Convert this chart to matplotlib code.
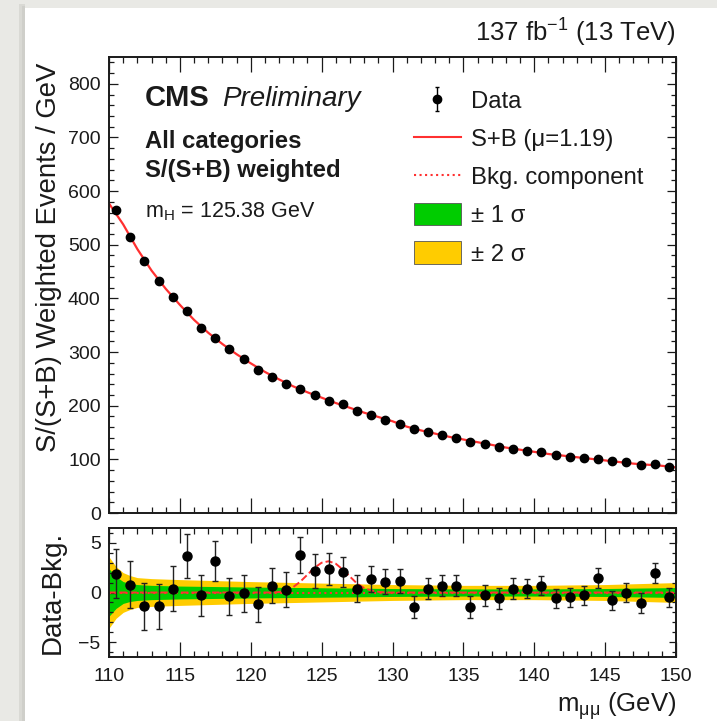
import numpy as np
import matplotlib
matplotlib.use('Agg')
import matplotlib.pyplot as plt
from matplotlib.patches import Rectangle, Patch
from matplotlib.lines import Line2D
from matplotlib.ticker import MultipleLocator

plt.rcParams['font.family'] = ['Liberation Sans', 'DejaVu Sans']
plt.rcParams['mathtext.default'] = 'regular'

# 1 GeV bins from 110 to 150
mass = np.arange(110.5, 150.0, 1.0)

events = [564, 515, 469, 432, 402, 376, 344, 327, 305, 287,
          266, 253, 240, 231, 220, 208, 203, 190, 182, 173,
          166, 156, 151, 145, 140, 132, 128, 123, 119, 115,
          113, 108, 104, 102, 100, 97, 95, 89, 91, 86]

resid = [1.9, 0.8, -1.4, -1.4, 0.4, 3.7, -0.3, 3.2, -0.4, -0.1,
         -1.2, 0.7, 0.3, 3.8, 2.2, 2.4, 2.1, 0.4, 1.4, 1.1,
         1.2, -1.5, 0.4, 0.7, 0.7, -1.5, -0.3, -0.6, 0.4, 0.4,
         0.7, -0.6, -0.5, -0.3, 1.5, -0.8, 0.0, -1.1, 2.0, -0.5]

resid_err = [2.5, 2.4, 2.4, 2.3, 2.3, 2.2, 2.1, 2.0, 1.9, 1.9,
             1.8, 1.8, 1.8, 1.8, 1.7, 1.6, 1.5, 1.4, 1.3, 1.3,
             1.2, 1.1, 1.1, 1.1, 1.1, 1.1, 1.1, 1.1, 1.1, 1.0,
             1.0, 1.0, 1.0, 1.0, 1.0, 1.0, 1.0, 1.0, 1.0, 1.0]

# S+B fit curve (top panel)
fit_mass = list(range(110, 151))
fit_vals = [577, 538, 492, 452, 418, 388, 360, 336, 315, 296,
            279, 263, 249, 236, 225, 215, 205, 196, 187, 179,
            171, 161, 154, 148, 142, 137, 132, 127, 122, 118,
            114, 110, 107, 104, 101, 98, 95, 92, 90, 88, 85]

# signal component (S+B - B) in the lower panel
sig_mass = [110, 121.5, 122, 122.5, 123, 123.5, 124, 124.5, 125, 125.5,
            126, 126.5, 127, 127.5, 128, 128.5, 129, 129.5, 150]
sig_vals = [0, 0, 0.05, 0.2, 0.55, 1.1, 1.8, 2.5, 3.0, 3.15,
            2.9, 2.3, 1.6, 0.9, 0.45, 0.2, 0.07, 0, 0]

# uncertainty bands of the background fit
band_mass = [110, 110.5, 111, 111.5, 112, 113, 115, 120, 125, 130, 135, 140, 145, 150]
band_1sig = [2.4, 1.6, 1.1, 0.9, 0.8, 0.72, 0.65, 0.55, 0.48, 0.4, 0.36, 0.36, 0.4, 0.5]
band_2sig = [3.6, 2.6, 2.0, 1.7, 1.5, 1.4, 1.3, 1.1, 0.95, 0.8, 0.72, 0.72, 0.8, 1.0]

red = '#ff3030'
green = '#00cc00'
yellow = '#ffcc00'
ink = '#1a1a1a'

W, H = 717, 721
fig = plt.figure(figsize=(W / 100, H / 100), dpi=100)
fig.patch.set_facecolor('#e9e9e5')
# slide-like white card with a soft shadow
fig.add_artist(Rectangle((19 / W, 0), 6 / W, 1 - 4 / H, transform=fig.transFigure,
                         facecolor='#d9d9d4', edgecolor='none', zorder=-3))
fig.add_artist(Rectangle((22 / W, 0), 3 / W, 1 - 6 / H, transform=fig.transFigure,
                         facecolor='#cfcfca', edgecolor='none', zorder=-2))
fig.add_artist(Rectangle((25 / W, 0), 1, 1 - 8 / H, transform=fig.transFigure,
                         facecolor='white', edgecolor='none', zorder=-1))

ax = fig.add_axes([109 / W, 1 - 513 / H, 567 / W, 456 / H])
ax2 = fig.add_axes([109 / W, 1 - 657 / H, 567 / W, 129 / H])

# upper panel
ax.plot(fit_mass, fit_vals, color=red, lw=1.6, zorder=2)
data_eb = ax.errorbar(mass, events, yerr=resid_err, fmt='o', color='black', ms=6,
                      elinewidth=1, capsize=1.5, zorder=3)
ax.set_xlim(110, 150)
ax.set_ylim(0, 850)

# lower panel
ax2.fill_between(band_mass, [-v for v in band_2sig], band_2sig, color=yellow, lw=0, zorder=1)
ax2.fill_between(band_mass, [-v for v in band_1sig], band_1sig, color=green, lw=0, zorder=1)
ax2.axhline(0, color=red, ls=':', lw=1.5, zorder=2)
ax2.plot(sig_mass, sig_vals, color=red, ls='--', lw=1.4, zorder=2)
ax2.errorbar(mass, resid, yerr=resid_err, fmt='o', color='black', ecolor='#222222', ms=6.5,
             elinewidth=1, capsize=2, zorder=3)
ax2.set_xlim(110, 150)
ax2.set_ylim(-6.5, 6.5)

for a in (ax, ax2):
    a.xaxis.set_major_locator(MultipleLocator(5))
    a.xaxis.set_minor_locator(MultipleLocator(1))
    a.tick_params(which='both', direction='in', top=True, right=True, width=0.9,
                  color=ink, labelsize=14, labelcolor=ink)
    a.tick_params(axis='x', which='major', length=11, pad=8)
    a.tick_params(axis='x', which='minor', length=4.5)
    for s in a.spines.values():
        s.set_linewidth(1.4)
        s.set_color(ink)

ax.yaxis.set_major_locator(MultipleLocator(100))
ax.yaxis.set_minor_locator(MultipleLocator(20))
ax.tick_params(axis='y', which='major', length=6.5, pad=6)
ax.tick_params(axis='y', which='minor', length=3.5)
ax.tick_params(labelbottom=False)

ax2.yaxis.set_major_locator(MultipleLocator(5))
ax2.yaxis.set_minor_locator(MultipleLocator(1))
ax2.tick_params(axis='y', which='major', length=5, pad=6)
ax2.tick_params(axis='y', which='minor', length=3)

ax.set_ylabel('S/(S+B) Weighted Events / GeV', fontsize=19.8, color=ink, loc='top')
ax.yaxis.set_label_coords(-0.083, 0.987)
ax2.set_ylabel('Data-Bkg.', fontsize=20, color=ink)
ax2.yaxis.set_label_coords(-0.076, 0.5)
ax2.set_xlabel(r'$m_{\mu\mu}$ (GeV)', fontsize=18.5, color=ink, loc='right')
ax2.xaxis.set_label_coords(1.0, -0.255)

ax.text(1.0, 1 + 15 / 456, r'137 fb$^{-1}$ (13 TeV)', transform=ax.transAxes,
        ha='right', va='baseline', fontsize=18.5, color=ink)

def afrac(px, py):
    return (px - 109) / 567, 1 - (py - 57) / 456

ax.text(*afrac(145, 106), 'CMS', transform=ax.transAxes, fontsize=21,
        fontweight='bold', color=ink, va='baseline')
ax.text(*afrac(222, 106), 'Preliminary', transform=ax.transAxes, fontsize=20,
        fontstyle='italic', color=ink, va='baseline')
ax.text(*afrac(145, 148), 'All categories', transform=ax.transAxes, fontsize=17.2,
        fontweight='bold', color=ink, va='baseline')
ax.text(*afrac(145, 177), 'S/(S+B) weighted', transform=ax.transAxes, fontsize=17.2,
        fontweight='bold', color=ink, va='baseline')
ax.text(*afrac(145, 217), r'$m_{H}$ = 125.38 GeV', transform=ax.transAxes, fontsize=15.5,
        color=ink, va='baseline')

handles = [data_eb,
           Line2D([], [], color=red, lw=1.5),
           Line2D([], [], color=red, lw=1.5, ls=':'),
           Patch(facecolor=green, edgecolor='#555555', lw=0.6),
           Patch(facecolor=yellow, edgecolor='#555555', lw=0.6)]
labels = ['Data', 'S+B (μ=1.19)', 'Bkg. component', '± 1 σ', '± 2 σ']
leg = ax.legend(handles, labels, loc='upper left', bbox_to_anchor=afrac(414, 89),
                frameon=False, fontsize=17.2, handlelength=1.95, handleheight=1.05,
                handletextpad=0.42, labelspacing=0.58, borderpad=0, borderaxespad=0)
for t in leg.get_texts():
    t.set_color(ink)

fig.savefig('out.png', dpi=100, facecolor=fig.get_facecolor())
